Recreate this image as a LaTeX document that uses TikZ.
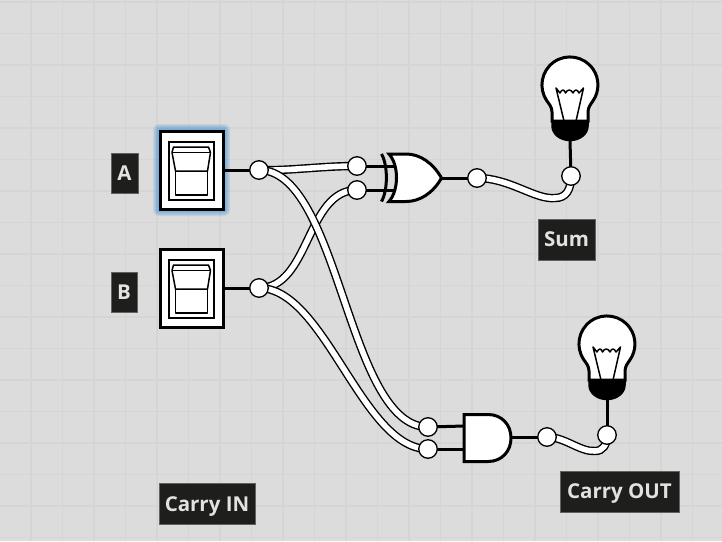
\documentclass[tikz,border=0pt]{standalone}
\usepackage{fontspec}
\setmainfont{Open Sans}
\definecolor{bgc}{HTML}{DCDCDC}
\definecolor{gridc}{HTML}{D5D5D5}
\definecolor{tagc}{HTML}{1E1E1C}
\definecolor{tagt}{HTML}{E2E2E2}
\definecolor{glowc}{HTML}{3F8FD8}
\tikzset{
  gridline/.style={draw=gridc,line width=1.6pt},
  wire/.style={draw=black,line width=8.4pt,postaction={draw=white,line width=5.6pt}},
  stub/.style={draw=black,line width=3pt},
  junction/.style={circle,draw=black,fill=white,line width=1.3pt,minimum size=18.5pt,inner sep=0pt},
  tag/.style={fill=tagc,draw=tagc!70!white,line width=.5pt,text=tagt,font=\bfseries\fontsize{20.5}{24}\selectfont,inner sep=0pt,anchor=center,text height=17pt,text depth=2.4pt},
  swbox/.style={rectangle,draw=black,fill=white,line width=3pt,minimum width=63pt,minimum height=78pt,inner sep=0pt},
  gatebody/.style={draw=black,fill=white,line width=3pt,line join=miter},
  thinline/.style={draw=black,line width=1.5pt,line join=round},
  lamp/.pic={
    \path[fill=white,draw=black,line width=3pt] (-18,36) -- (-18,27) .. controls (-18,22) and (-21,19) .. (-23,16)
      arc[start angle=145,end angle=395,radius=28] .. controls (21,19) and (18,22) .. (18,27) -- (18,36) -- cycle;
    \draw[line width=1.5pt,line join=round] (-6,36) -- (-14,3) -- (-10,8) .. controls (-8,4) and (-6,4) .. (-4.5,8) .. controls (-2.5,4) and (1,4) .. (3,8)
      .. controls (5,4) and (7,4) .. (9,8) -- (13.5,3) -- (6,36);
    \path[fill=black,draw=black,line width=1.5pt] (-18,36) -- (18,36) -- (18,41) .. controls (18,49) and (10,55.5) .. (0,55.5)
      .. controls (-10,55.5) and (-18,49) .. (-18,41) -- cycle;
  },
  togglesw/.pic={
    \draw[draw=black,line width=1.5pt] (-22.5,-28) rectangle (22.5,30);
    \draw[thinline,fill=white] (-16,1) rectangle (16,25);
    \draw[thinline,fill=white] (-16,1) -- (-19.5,-17.5) -- (-18,-23) -- (17,-23) -- (19,-17.5) -- (16,1) -- cycle;
    \draw[thinline] (-19.5,-17.5) -- (19,-17.5);
  },
}
\begin{document}
\begin{tikzpicture}[x=1pt,y=1pt,yscale=-1]
\useasboundingbox (0,0) rectangle (722,541);
\fill[bgc] (0,0) rectangle (722,541);
\foreach \k in {0,...,22} {
  \draw[gridline] ({31+31.5*\k},0) -- ({31+31.5*\k},541);
}
\foreach \k in {0,...,17} {
  \draw[gridline] (0,{2+31.5*\k}) -- (722,{2+31.5*\k});
}
% glow of switch A
\foreach \r in {6,5,4,3,2,1} {
  \fill[glowc,opacity=.14,rounded corners=\r pt] ({159-\r},{130-\r}) rectangle ({224+\r},{210+\r});
}
% switches
\node[swbox] (swA) at (191.5,170) {};
\node[swbox] (swB) at (191.5,288) {};
\pic[yscale=-1] at (191.5,170) {togglesw};
\pic[yscale=-1] at (191.5,288) {togglesw};
% junctions (positions)
\coordinate (jA) at (259,170);
\coordinate (jB) at (259,288);
\coordinate (xa) at (357,166);
\coordinate (xb) at (357,190);
\coordinate (aa) at (428,427);
\coordinate (ab) at (428,449);
\coordinate (so) at (477,178);
\coordinate (sl) at (571,176);
\coordinate (co) at (547,437);
\coordinate (cl) at (607,435);
% gate ports
\coordinate (xorA) at (394,166);
\coordinate (xorB) at (394,190);
\coordinate (xorO) at (441,178);
\coordinate (andA) at (464,426);
\coordinate (andB) at (464,449);
\coordinate (andO) at (511,437);
\coordinate (lampS) at (570,141);
\coordinate (lampC) at (607,400);
% wires
\draw[wire] (jB) .. controls (310,288) and (306,190) .. (xb);
\draw[wire] (jA) .. controls (290,171) and (320,166) .. (xa);
\draw[wire] (jB) .. controls (325,288) and (362,449) .. (ab);
\draw[wire] (jA) .. controls (340,170) and (347,427) .. (aa);
\draw[wire] (so) .. controls (510,178) and (535,200) .. (555,198) .. controls (566,198) and (571,190) .. (sl);
\draw[wire] (co) .. controls (565,437) and (580,452) .. (595,451) .. controls (603,451) and (607,445) .. (cl);
% stubs
\draw[stub] (swA.east) -- (jA);
\draw[stub] (swB.east) -- (jB);
\draw[stub] (xa) -- (xorA);
\draw[stub] (xb) -- (xorB);
\draw[stub] (aa) -- (andA);
\draw[stub] (ab) -- (andB);
\draw[stub] (xorO) -- (so);
\draw[stub] (andO) -- (co);
\draw[stub] (lampS) -- (sl);
\draw[stub] (lampC) -- (cl);
% gates
\draw[draw=black,line width=3pt] (381.5,154) .. controls (388,165) and (388,190) .. (381.5,201.5);
\path[gatebody] (389,154) -- (406,154) .. controls (420,154) and (433,163) .. (441.5,178)
  .. controls (433,193) and (420,201.5) .. (406,201.5) -- (389,201.5)
  .. controls (399,190) and (399,165) .. (389,154) -- cycle;
\path[gatebody] (464,414.5) -- (488,414.5) .. controls (502,414.5) and (511,425) .. (511,438)
  .. controls (511,451) and (502,461.5) .. (488,461.5) -- (464,461.5) -- cycle;
% lamps
\pic[yscale=-1] at (570,85) {lamp};
\pic[yscale=-1] at (607,344) {lamp};
% junction circles
\node[junction] (njA) at (jA) {};
\node[junction] (njB) at (jB) {};
\node[junction] (nxa) at (xa) {};
\node[junction] (nxb) at (xb) {};
\node[junction] (naa) at (aa) {};
\node[junction] (nab) at (ab) {};
\node[junction] (nso) at (so) {};
\node[junction] (nsl) at (sl) {};
\node[junction] (nco) at (co) {};
\node[junction] (ncl) at (cl) {};
% labels
\node[tag,minimum width=27pt,minimum height=40pt] (lA) at (124.5,173) {A};
\node[tag,minimum width=26pt,minimum height=40pt] (lB) at (124,292) {B};
\node[tag,minimum width=57pt,minimum height=41pt] (lS) at (566.5,239.5) {Sum};
\node[tag,minimum width=96pt,minimum height=41pt] (lI) at (207,504) {Carry IN};
\node[tag,minimum width=119pt,minimum height=41pt] (lO) at (619.5,491.5) {Carry OUT};
\end{tikzpicture}
\end{document}
